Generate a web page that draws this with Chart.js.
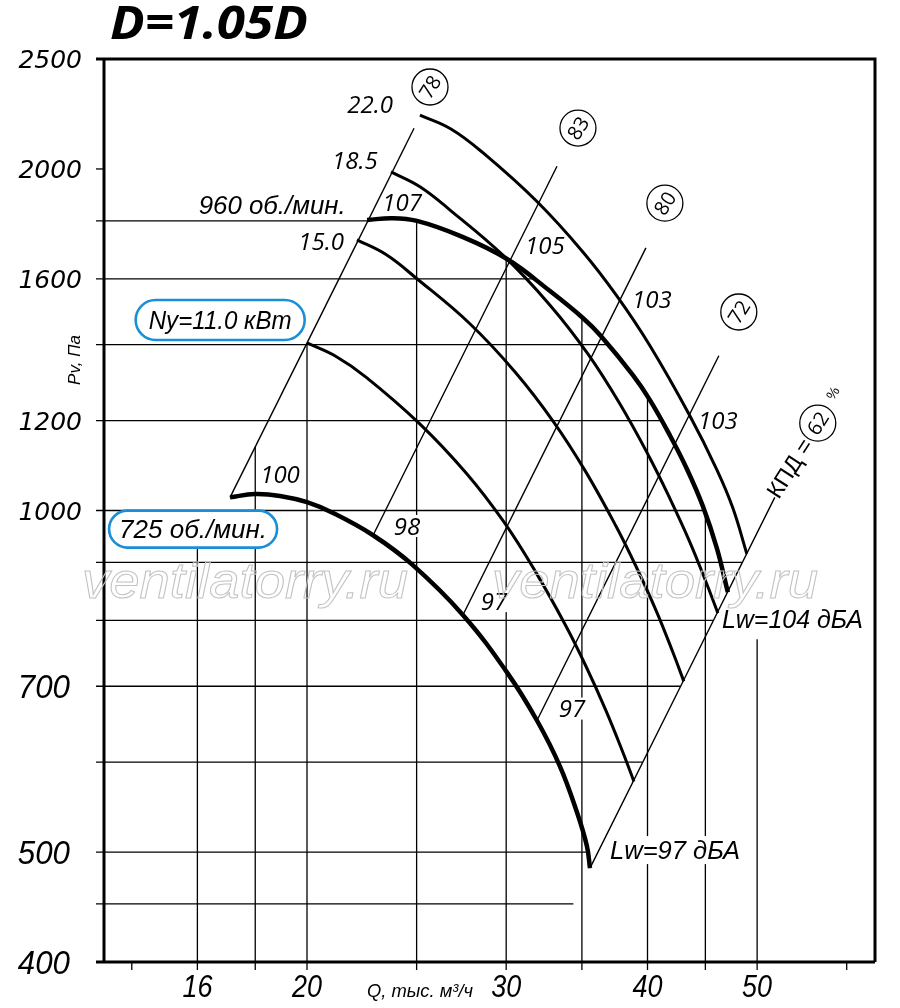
<!DOCTYPE html>
<html>
<head>
<meta charset="utf-8">
<script src="https://cdn.jsdelivr.net/npm/chart.js@4.4.1/dist/chart.umd.min.js"></script>
<style>
html,body{margin:0;padding:0;background:#fff;}
canvas{display:block;}
</style>
</head>
<body>
<canvas id="c" width="900" height="1008"></canvas>
<script>
// ---------- axes ----------
const Q_MIN = 13.23, Q_MAX = 63.56;      // Q, тыс. м3/ч (log)
const P_MIN = 400, P_MAX = 2500;         // Pv, Па (log)
const qTickLabels = [16, 20, 30, 40, 50];
const qTickOnly = [14, 60];
const pTickLabelsUpper = [1000, 1200, 1600, 2000, 2500];
const pTickLabelsLower = [400, 500, 700];
const pTickOnly = [2000];

// ---------- fan curves [Q, P] ----------
const curve725 = [[17.10,1027],[17.99,1034],[18.93,1030],[20.00,1017],[21.09,995],[22.88,951],[24.81,895],[27.47,809],[30.05,720],[31.94,653],[33.47,595],[34.65,542],[35.36,506],[35.58,484]];
const curve960 = [[22.60,1803],[23.78,1810],[25.02,1800],[27.31,1746],[30.05,1666],[32.8,1561],[35.07,1478],[36.38,1425],[38.83,1316],[40.2,1251],[41.86,1165],[43.34,1088],[44.77,1009],[46.07,926],[47.11,847]];
const curveN110 = [[20.0,1405],[21.22,1367],[22.55,1311],[25.12,1194],[27.65,1079],[29.86,977],[31.87,882],[33.88,791],[35.29,729],[36.74,667],[38.05,612],[38.91,577]];
const curveN150 = [[22.14,1732],[23.49,1681],[24.97,1603],[27.82,1463],[30.6,1322],[33.06,1196],[35.29,1081],[37.51,969],[39.07,893],[40.69,817],[42.12,750],[43.07,707]];
const curveN185 = [[23.73,1988],[25.17,1929],[26.76,1840],[29.8,1679],[32.8,1517],[35.43,1374],[37.82,1241],[40.2,1112],[41.86,1025],[43.6,938],[45.14,861],[46.16,812]];
const curveN220 = [[25.17,2231],[26.81,2169],[28.61,2067],[31.94,1872],[35.07,1690],[37.59,1545],[40.2,1397],[43.6,1212],[46.07,1086],[47.59,1005],[48.96,916]];

// ---------- efficiency rays (КПД, %) ----------
const ray78 = [[17.10,1027],[24.87,2172]];
const ray83 = [[22.88,951],[33.27,2011]];
const ray80 = [[27.47,809],[39.87,1704]];
const ray72 = [[31.94,653],[46.25,1369]];
const ray62 = [[35.58,484],[51.83,1027]];

// ---------- grid segments ----------
const hGrid = [[1800,22.60],[1600,31.73],[1400,36.9],[1200,41.1],[1000,44.9],[900,48.5],[800,45.8],[700,42.8],[600,39.6],[500,35.4],[450,34.4]]; // [P, Q end]
const vGrid = [[16,1000],[18,1138],[20,1405],[25,1800],[30,1667],[35,1480],[40,1260],[45,994],[50,770]]; // [Q, P top]

// ---------- annotations [text, Q, P] ----------
const powerLabels = [["22.0",22.74,2282],["18.5",22.05,2037],["15.0",20.58,1728]];
const speedLabels = [["960 об./мин.",18.63,1859]];
const noiseLabels = [["107",24.27,1870],["105",32.46,1711],["103",40.36,1536],["103",46.16,1201],["100",18.93,1077],["98",24.51,969],["97",29.26,832],["97",34.30,669]];
const lwLabels = [["Lw=104 дБА",46.54,802],["Lw=97 дБА",37.06,502]];
const effCircles = [["78",25.69,2362],["83",34.72,2173],["80",41.44,1866],["72",48.17,1496],["62",56.57,1194]];
const kpdLabel = ["КПД =",53.4,1090];
const pctLabel = ["%",58.32,1269];
const boxLabels = [["Ny=11.0 кВт",16.76,1472],["725 об./мин.",15.86,963]];

const LBL = '"Open Sans", "DejaVu Sans", sans-serif';
const LIB = '"Liberation Sans", Arial, sans-serif';

function drawText(ctx, s, x, y, o) {
  ctx.save();
  ctx.translate(x, y);
  if (o.rot) ctx.rotate(o.rot);
  ctx.font = o.font;
  let sx = o.sx || 1;
  if (o.fitW) sx = o.fitW / ctx.measureText(s).width;
  ctx.scale(sx, 1);
  ctx.textAlign = o.align || 'center';
  ctx.textBaseline = 'alphabetic';
  const dy = (o.size || 24) * 0.36;
  if (o.stroke) {
    ctx.strokeStyle = o.stroke; ctx.lineWidth = o.lw || 1;
    ctx.strokeText(s, 0, dy);
  } else {
    ctx.fillStyle = o.color || '#000';
    ctx.fillText(s, 0, dy);
  }
  ctx.restore();
}

const fanPlugin = {
  id: 'fanPlugin',
  beforeDatasetsDraw(chart) {
    const ctx = chart.ctx, a = chart.chartArea, X = chart.scales.x, Y = chart.scales.y;
    ctx.save();
    ctx.strokeStyle = '#000';
    ctx.lineWidth = 1.3;
    hGrid.forEach(([p, q]) => {
      const y = Y.getPixelForValue(p);
      ctx.beginPath(); ctx.moveTo(a.left - 8, y); ctx.lineTo(X.getPixelForValue(q), y); ctx.stroke();
    });
    vGrid.forEach(([q, p]) => {
      const x = X.getPixelForValue(q);
      ctx.beginPath(); ctx.moveTo(x, Y.getPixelForValue(p)); ctx.lineTo(x, a.bottom + 8); ctx.stroke();
    });
    pTickOnly.forEach(p => {
      const y = Y.getPixelForValue(p);
      ctx.beginPath(); ctx.moveTo(a.left - 8, y); ctx.lineTo(a.left, y); ctx.stroke();
    });
    qTickOnly.forEach(q => {
      const x = X.getPixelForValue(q);
      ctx.beginPath(); ctx.moveTo(x, a.bottom); ctx.lineTo(x, a.bottom + 8); ctx.stroke();
    });
    // white masks behind labels (cut grid lines)
    ctx.fillStyle = '#fff';
    ctx.font = 'italic 24px ' + LBL;
    noiseLabels.concat(powerLabels).forEach(([t, q, p]) => {
      const w = ctx.measureText(t).width;
      ctx.fillRect(X.getPixelForValue(q) - w/2 - 2, Y.getPixelForValue(p) - 11, w + 4, 22);
    });
    ctx.font = 'italic 24px ' + LIB;
    lwLabels.forEach(([t, q, p]) => {
      const w = ctx.measureText(t).width;
      ctx.fillRect(X.getPixelForValue(q) - 2, Y.getPixelForValue(p) - 14, w + 4, 28);
    });
    // frame
    ctx.lineWidth = 3;
    ctx.beginPath();
    ctx.moveTo(a.left - 8, a.top); ctx.lineTo(a.right, a.top); ctx.lineTo(a.right, a.bottom);
    ctx.moveTo(a.left - 8, a.bottom); ctx.lineTo(a.right, a.bottom);
    ctx.moveTo(a.left, a.top); ctx.lineTo(a.left, a.bottom);
    ctx.stroke();
    ctx.restore();
  },
  afterDatasetsDraw(chart) {
    const ctx = chart.ctx, a = chart.chartArea, X = chart.scales.x, Y = chart.scales.y;
    const px = q => X.getPixelForValue(q), py = p => Y.getPixelForValue(p);
    ctx.save();
    // axis tick labels
    pTickLabelsUpper.forEach(v => drawText(ctx, String(v), a.left - 22, py(v), {font: 'italic 25px "DejaVu Sans", sans-serif', size: 25, align: 'right'}));
    pTickLabelsLower.forEach(v => drawText(ctx, String(v), a.left - 34, py(v), {font: 'italic 34px ' + LIB, size: 34, align: 'right', sx: 0.92}));
    qTickLabels.forEach(v => drawText(ctx, String(v), px(v), 986, {font: 'italic 31px ' + LIB, size: 31, sx: 0.87}));
    // axis titles
    drawText(ctx, 'Q, тыс. м³/ч', 367, 990, {font: 'italic 19px ' + LIB, size: 19, align: 'left', fitW: 106});
    drawText(ctx, 'Pv, Пa', 74, 360, {font: 'italic 17px ' + LIB, size: 17, rot: -Math.PI/2});
    // title
    drawText(ctx, 'D=1.05D', 110, 22, {font: 'bold italic 46px ' + LBL, size: 46, align: 'left', fitW: 198});
    // curve labels
    powerLabels.forEach(([t,q,p]) => drawText(ctx, t, px(q), py(p), {font: 'italic 24px ' + LBL, size: 24}));
    speedLabels.forEach(([t,q,p]) => drawText(ctx, t, px(q), py(p), {font: 'italic 25px ' + LIB, size: 25, fitW: 147}));
    noiseLabels.forEach(([t,q,p]) => drawText(ctx, t, px(q), py(p), {font: 'italic 24px ' + LBL, size: 24}));
    lwLabels.forEach(([t,q,p]) => drawText(ctx, t, px(q), py(p), {font: 'italic 25px ' + LIB, size: 25, align: 'left', fitW: (t.length > 9 ? 141 : 130)}));
    // efficiency circles
    const rot = -Math.atan(2) + 0.1;
    effCircles.forEach(([t,q,p]) => {
      const x = px(q), y = py(p);
      ctx.beginPath(); ctx.arc(x, y, 18, 0, Math.PI*2);
      ctx.fillStyle = '#fff'; ctx.fill();
      ctx.lineWidth = 1.3; ctx.strokeStyle = '#000'; ctx.stroke();
      drawText(ctx, t, x, y, {font: '20px ' + LBL, size: 20, rot: rot});
    });
    drawText(ctx, kpdLabel[0], px(kpdLabel[1]), py(kpdLabel[2]), {font: '23px ' + LIB, size: 23, rot: -1.0});
    drawText(ctx, pctLabel[0], px(pctLabel[1]), py(pctLabel[2]), {font: '14px ' + LIB, size: 14, rot: -1.0});
    // boxed labels
    boxLabels.forEach(([t,q,p], i) => {
      const x = px(q), y = py(p);
      const w = (i === 0 ? 169 : 168), h = (i === 0 ? 40 : 37), r = h/2;
      ctx.beginPath();
      ctx.moveTo(x - w/2 + r, y - h/2);
      ctx.lineTo(x + w/2 - r, y - h/2);
      ctx.arc(x + w/2 - r, y, r, -Math.PI/2, Math.PI/2);
      ctx.lineTo(x - w/2 + r, y + h/2);
      ctx.arc(x - w/2 + r, y, r, Math.PI/2, Math.PI*1.5);
      ctx.closePath();
      ctx.fillStyle = '#fff'; ctx.fill();
      ctx.lineWidth = 2.6; ctx.strokeStyle = '#1a8fd6'; ctx.stroke();
      drawText(ctx, t, x, y, {font: 'italic 25px ' + LIB, size: 25, fitW: (i === 0 ? 143 : 148)});
    });
    // watermark
    [82, 492].forEach(x0 => drawText(ctx, 'ventilatorry.ru', x0, 580, {font: 'italic 50px ' + LIB, size: 50, align: 'left', fitW: 326, stroke: '#c2c2c2', lw: 1}));
    ctx.restore();
  }
};

function series(pts, width) {
  return {
    data: pts.map(([q, p]) => ({x: q, y: p})),
    showLine: true, borderColor: '#000', borderWidth: width,
    pointRadius: 0, fill: false, tension: 0.4
  };
}

const datasets = [
  series(ray78, 1.4), series(ray83, 1.4), series(ray80, 1.4), series(ray72, 1.4), series(ray62, 1.4),
  series(curveN110, 3), series(curveN150, 3), series(curveN185, 3), series(curveN220, 3),
  series(curve725, 4.5), series(curve960, 4.5)
];

new Chart(document.getElementById('c'), {
  type: 'scatter',
  data: {datasets},
  options: {
    responsive: false, animation: false, devicePixelRatio: 1,
    layout: {padding: {left: 104, right: 25, top: 59, bottom: 46}},
    scales: {
      x: {type: 'logarithmic', min: Q_MIN, max: Q_MAX, display: false},
      y: {type: 'logarithmic', min: P_MIN, max: P_MAX, display: false}
    },
    plugins: {legend: {display: false}, tooltip: {enabled: false}}
  },
  plugins: [fanPlugin]
});
</script>
</body>
</html>
